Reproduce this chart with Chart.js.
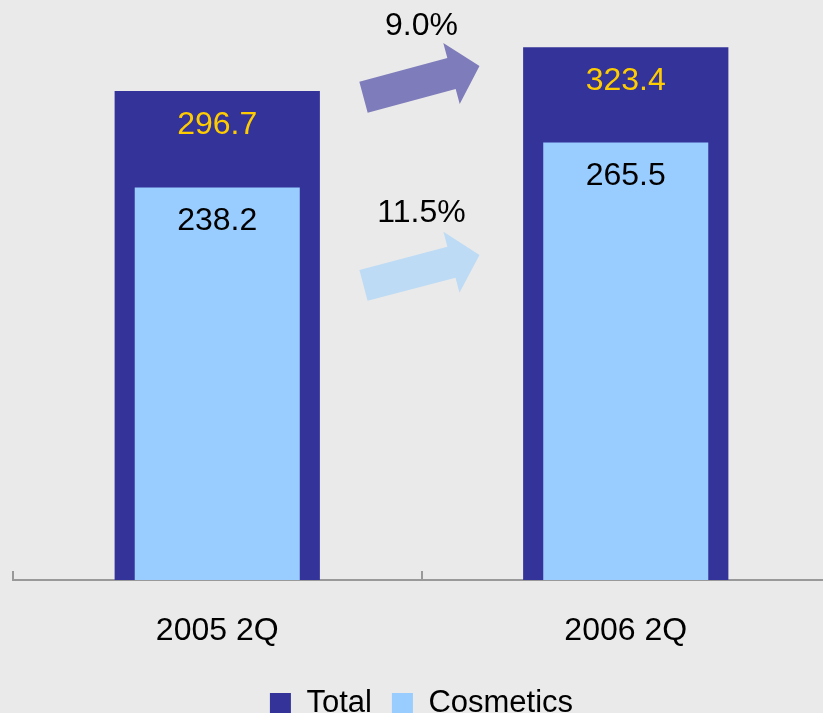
<!DOCTYPE html>
<html>
<head>
<meta charset="utf-8">
<script src="https://cdn.jsdelivr.net/npm/chart.js@4/dist/chart.umd.min.js"></script>
<style>
  html, body { margin: 0; padding: 0; background: #EAEAEA; overflow: hidden; }
  #outer { width: 823px; height: 713px; overflow: hidden; position: relative; }
  #inner { width: 830px; height: 729px; position: absolute; left: 0; top: 0; }
</style>
</head>
<body>
<div id="outer"><div id="inner"><canvas id="c"></canvas></div></div>
<script>
const categories = ['2005 2Q', '2006 2Q'];
const totalValues = [296.7, 323.4];
const cosmeticsValues = [238.2, 265.5];
const growthLabels = ['9.0%', '11.5%'];
// growth arrows: value at tail, value at tip, value where the label sits
const arrowTail = [293, 178.8];
const arrowTip = [312, 197.3];
const arrowLabelAt = [336, 222.5];

const FONT = '"Liberation Sans", Arial, sans-serif';

const valueLabels = {
  id: 'valueLabels',
  afterDatasetsDraw(chart) {
    const ctx = chart.ctx;
    ctx.save();
    ctx.font = '32px ' + FONT;
    ctx.textAlign = 'center';
    ctx.textBaseline = 'middle';
    chart.data.datasets.forEach((ds, i) => {
      const meta = chart.getDatasetMeta(i);
      meta.data.forEach((bar, j) => {
        ctx.fillStyle = ds.labelColor;
        ctx.fillText(ds.data[j].toFixed(1), bar.x, bar.y + 34);
      });
    });
    ctx.restore();
  }
};

function drawArrow(ctx, x0, y0, x1, y1, color) {
  const dx = x1 - x0, dy = y1 - y0;
  const len = Math.hypot(dx, dy);
  const ux = dx / len, uy = dy / len;
  const px = -uy, py = ux;
  const sh = 16, hh = 31.5, hl = 29;
  const bx = x1 - ux * hl, by = y1 - uy * hl;
  ctx.beginPath();
  ctx.moveTo(x0 + px * sh, y0 + py * sh);
  ctx.lineTo(bx + px * sh, by + py * sh);
  ctx.lineTo(bx + px * hh, by + py * hh);
  ctx.lineTo(x1, y1);
  ctx.lineTo(bx - px * hh, by - py * hh);
  ctx.lineTo(bx - px * sh, by - py * sh);
  ctx.lineTo(x0 - px * sh, y0 - py * sh);
  ctx.closePath();
  ctx.fillStyle = color;
  ctx.fill();
}

const growthArrows = {
  id: 'growthArrows',
  afterDraw(chart) {
    const ctx = chart.ctx;
    const xs = chart.scales.x, ys = chart.scales.y;
    const cx = (xs.getPixelForValue(0) + xs.getPixelForValue(1)) / 2;
    const colors = ['#7E7CBA', '#BDDBF5'];
    ctx.save();
    growthLabels.forEach((lab, i) => {
      drawArrow(ctx, cx - 58, ys.getPixelForValue(arrowTail[i]), cx + 58, ys.getPixelForValue(arrowTip[i]), colors[i]);
      ctx.font = '32px ' + FONT;
      ctx.fillStyle = '#000';
      ctx.textAlign = 'center';
      ctx.textBaseline = 'middle';
      ctx.fillText(lab, cx, ys.getPixelForValue(arrowLabelAt[i]));
    });
    ctx.restore();
  }
};

new Chart(document.getElementById('c'), {
  type: 'bar',
  data: {
    labels: categories,
    datasets: [
      {
        label: 'Total',
        data: totalValues,
        backgroundColor: '#333399',
        borderWidth: 0,
        barPercentage: 0.5025,
        categoryPercentage: 1,
        grouped: false,
        order: 1,
        labelColor: '#FFCC00'
      },
      {
        label: 'Cosmetics',
        data: cosmeticsValues,
        backgroundColor: '#99CCFF',
        borderWidth: 0,
        barPercentage: 0.404,
        categoryPercentage: 1,
        grouped: false,
        order: 0,
        labelColor: '#000000'
      }
    ]
  },
  options: {
    responsive: true,
    maintainAspectRatio: false,
    animation: false,
    layout: { padding: { left: 13, right: 0, top: 0, bottom: 0 } },
    plugins: {
      legend: {
        position: 'bottom',
        labels: {
          font: { family: FONT, size: 31 },
          color: '#000',
          boxWidth: 21,
          boxHeight: 21,
          padding: 20,
          sort: (a, b) => a.datasetIndex - b.datasetIndex
        }
      },
      tooltip: { enabled: false }
    },
    scales: {
      x: {
        grid: { display: true, drawOnChartArea: false, drawTicks: true, tickLength: -9, color: '#999999', lineWidth: 2, offset: true },
        border: { display: true, color: '#999999', width: 2 },
        ticks: { font: { family: FONT, size: 32 }, color: '#000', padding: 41 },
        afterFit(scale) { scale.height = 88; }
      },
      y: {
        display: false,
        min: 0,
        max: 352
      }
    }
  },
  plugins: [valueLabels, growthArrows]
});
</script>
</body>
</html>
